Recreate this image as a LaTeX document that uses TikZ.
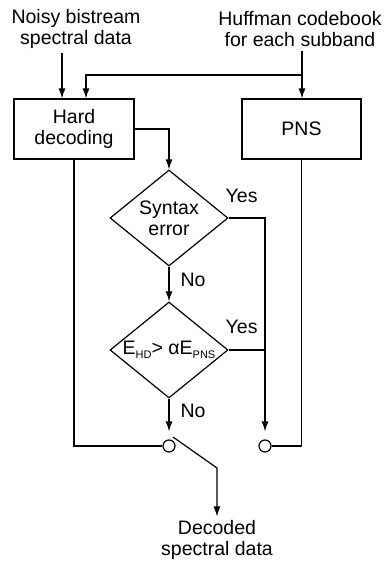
\documentclass[tikz,border=0pt]{standalone}
\usepackage{fontspec}
\setmainfont{Liberation Sans}
\usetikzlibrary{shapes.geometric,arrows.meta}
\newcommand{\lowsub}[1]{\raisebox{-3.5pt}{\fontsize{11}{11}\selectfont #1}}

\begin{document}
\begin{tikzpicture}[x=1pt, y=-1pt, line width=1.2pt,
    >={Latex[length=10pt,width=7pt]},
    every node/.style={font=\fontsize{19.5}{21}\selectfont, align=center},
    block/.style={draw, minimum width=119pt, minimum height=60pt, inner sep=0pt},
    decision/.style={draw, diamond, minimum width=118pt, minimum height=96pt, inner sep=0pt},
    contact/.style={draw, circle, fill=white, minimum size=12pt, inner sep=0pt}]
        \useasboundingbox (0,0) rectangle (387,561);

        \node (noisy) at (76,29) {Noisy bistream\\spectral data};
        \node (huff) at (300,29) {Huffman codebook\\for each subband};
        \node[block, minimum width=120pt] (hard) at (74,129) {Hard\\decoding};
        \node[block] (pns) at (301.5,129) {PNS};
        \node[decision, label=center:{Syntax\\error}] (syn) at (169,218) {};
        \node[decision, label=center:{E\lowsub{HD}> αE\lowsub{PNS}}] (cmp) at (169,350) {};
        \node[contact] (sw1) at (169,446) {};
        \node[contact] (sw2) at (265,446) {};
        \node (out) at (217,540) {Decoded\\spectral data};
        \coordinate (split) at (302,75);
        \coordinate (knee) at (217,468);

        \draw [->] ([xshift=-12pt]hard.north |- noisy.south) -- ([xshift=-12pt]hard.north);
        \draw (huff.south -| split) -- (split);
        \draw [->] (split) -- (split |- pns.north);
        \draw [->] (split) -| ([xshift=12pt]hard.north);
        \draw [->] (hard.east) -| (syn.north);
        \draw [->] (syn.south) -- (cmp.north);
        \draw [->] (cmp.south) -- ([yshift=8pt]sw1.north);
        \draw [->] (syn.east) -| ([yshift=8pt]sw2.north);
        \draw (cmp.east) -- (cmp.east -| sw2);
        \draw (hard.south) |- (sw1.west);
        \draw (pns.south) |- (sw2.east);
        \draw [->] ([xshift=4pt,yshift=9pt]sw1.center) -- (knee) -- (out.north);

        \node (yes1) at ([xshift=13pt,yshift=22pt]syn.east) {Yes};
        \node (yes2) at ([xshift=13pt,yshift=23pt]cmp.east) {Yes};
        \node (no1) at ([xshift=24pt,yshift=-13pt]syn.south) {No};
        \node (no2) at ([xshift=24pt,yshift=-12pt]cmp.south) {No};
    \end{tikzpicture}
\end{document}
